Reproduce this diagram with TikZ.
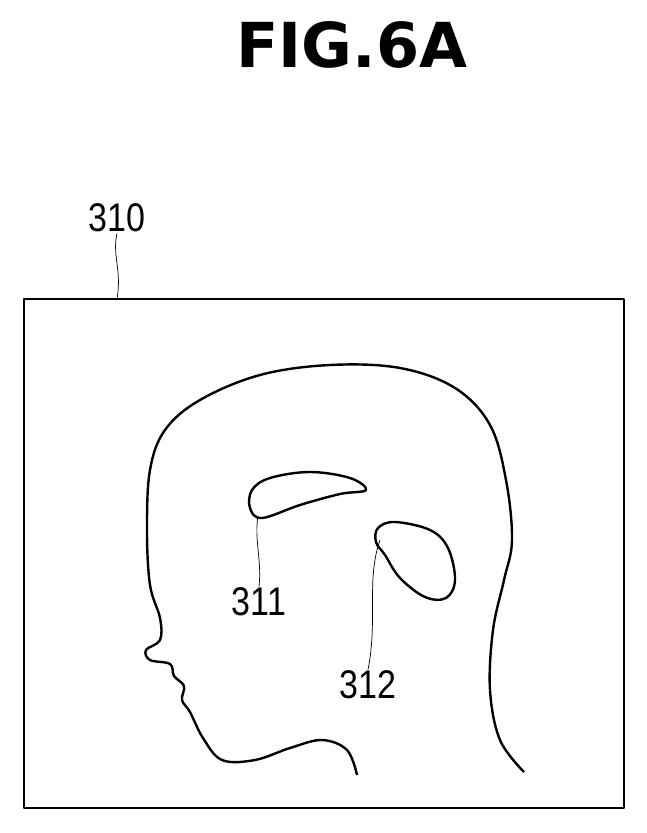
\documentclass[tikz,border=0pt]{standalone}
\usepackage{fontspec}
\setsansfont{Liberation Sans}
\newfontfamily\titlefont{DejaVu Sans}
\tikzset{outline/.style = {line width=2.4pt, line join=round}}
\tikzset{lead/.style = {line width=0.7pt}}
\tikzset{reflabel/.style = {font=\sffamily\fontsize{40}{40}\selectfont, inner sep=1pt, xscale=0.85}}
\begin{document}
\begin{tikzpicture}[x=1pt, y=-1pt]
    \useasboundingbox (0,0) rectangle (647,833);
    \node[font=\titlefont\bfseries\fontsize{62}{62}\selectfont] (title) at (352,45) {FIG.6A};

    % screen frame
    \draw[outline] (24,299) rectangle (624,808);
    \node[reflabel] (L310) at (117,218) {310};
    \coordinate (F) at (117,299);
    \draw[lead] (L310.south) .. controls (112,255) and (122,270) .. (F);

    % head contour
    \draw[outline] plot[smooth, tension=0.6] coordinates {(357,775) (347,750) (322,740) (290,748) (255,760) (222,760)
        (203,738) (190,712) (182,700) (184,686) (174,676) (170,664) (150,660) (146,650) (160,640)
        (160,618) (150,585) (147,530) (150,470) (165,430) (200,400) (260,375) (330,365) (400,368) (455,388)
        (490,425) (506,480) (512,540) (504,580) (493,630) (490,690) (500,740) (524,772)};

    % ventricle regions
    \draw[outline] plot[smooth cycle, tension=0.6] coordinates {(252,490) (270,478) (310,472) (350,478) (366,490)
        (340,494) (300,505) (262,518) (250,508)};
    \draw[outline] plot[smooth cycle, tension=0.6] coordinates {(378,528) (395,522) (430,530) (448,548) (455,580)
        (446,598) (425,597) (400,578) (385,555) (376,542)};

    \node[reflabel] (L311) at (259,602) {311};
    \coordinate (R1) at (258,516);
    \draw[lead] (L311.north) .. controls (262,560) and (254,540) .. (R1);
    \node[reflabel] (L312) at (368,685) {312};
    \coordinate (R2) at (380,540);
    \draw[lead] (L312.north) .. controls (378,620) and (366,580) .. (R2);
\end{tikzpicture}
\end{document}
